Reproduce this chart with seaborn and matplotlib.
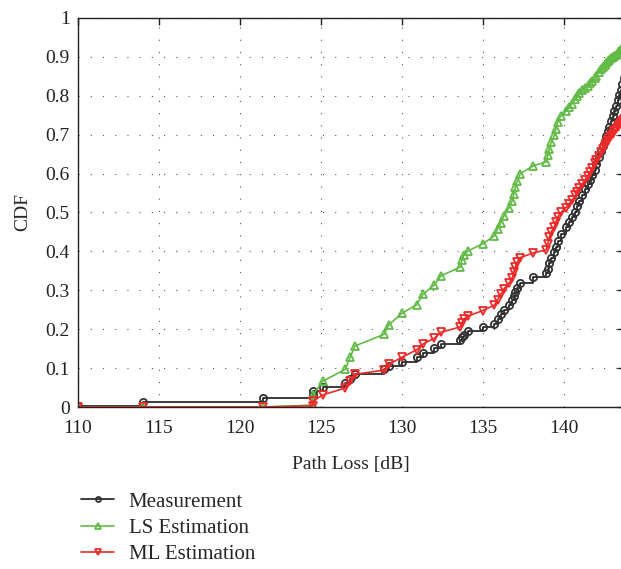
import matplotlib
matplotlib.use("Agg")
import matplotlib.pyplot as plt
import seaborn as sns

# Path loss samples (dB) shared by all three curves
path_loss = [110.0, 114.0, 121.4, 124.5, 124.5, 125.1, 126.5, 126.8, 127.1, 128.9,
             129.2, 130.0, 130.9, 131.3, 132.0, 132.4, 133.6, 133.7, 133.8, 134.1,
             135.0, 135.7, 135.9, 136.1, 136.3, 136.6, 136.8, 136.9, 137.0, 137.1,
             137.3, 138.1, 138.9, 139.0, 139.1, 139.2, 139.4, 139.5, 139.6, 139.8,
             140.1, 140.3, 140.5, 140.7, 140.8, 140.9, 141.1, 141.3, 141.45, 141.6,
             141.75, 141.9, 142.0, 142.15, 142.3, 142.4, 142.5, 142.6, 142.7, 142.8,
             142.9, 143.0, 143.1, 143.2, 143.3, 143.4, 143.5, 143.6, 143.7]

cdf_meas = [0.003, 0.013, 0.022, 0.032, 0.042, 0.052, 0.062, 0.072, 0.085, 0.097,
            0.105, 0.116, 0.128, 0.139, 0.152, 0.162, 0.172, 0.180, 0.186, 0.195,
            0.205, 0.214, 0.226, 0.238, 0.250, 0.262, 0.274, 0.286, 0.296, 0.306,
            0.320, 0.334, 0.344, 0.356, 0.370, 0.384, 0.398, 0.412, 0.428, 0.446,
            0.462, 0.476, 0.488, 0.502, 0.516, 0.530, 0.546, 0.560, 0.572, 0.584,
            0.596, 0.608, 0.625, 0.642, 0.658, 0.672, 0.684, 0.697, 0.709, 0.721,
            0.734, 0.747, 0.760, 0.774, 0.788, 0.801, 0.815, 0.830, 0.845]

cdf_ls = [0.0, 0.0, 0.0, 0.005, 0.030, 0.066, 0.097, 0.128, 0.157, 0.187,
          0.212, 0.241, 0.263, 0.290, 0.314, 0.337, 0.360, 0.378, 0.390, 0.402,
          0.420, 0.440, 0.458, 0.474, 0.492, 0.512, 0.530, 0.548, 0.565, 0.580,
          0.600, 0.620, 0.630, 0.648, 0.664, 0.680, 0.698, 0.715, 0.732, 0.748,
          0.760, 0.770, 0.780, 0.792, 0.800, 0.808, 0.815, 0.820, 0.826, 0.832,
          0.838, 0.845, 0.852, 0.860, 0.868, 0.874, 0.880, 0.885, 0.889, 0.893,
          0.897, 0.900, 0.903, 0.906, 0.910, 0.914, 0.918, 0.922, 0.926]

cdf_ml = [0.0, 0.0, 0.0, 0.003, 0.015, 0.031, 0.049, 0.068, 0.084, 0.095,
          0.110, 0.128, 0.147, 0.162, 0.177, 0.192, 0.206, 0.216, 0.226, 0.234,
          0.248, 0.262, 0.276, 0.290, 0.304, 0.318, 0.332, 0.346, 0.360, 0.372,
          0.384, 0.396, 0.404, 0.420, 0.436, 0.450, 0.463, 0.476, 0.488, 0.500,
          0.512, 0.522, 0.532, 0.544, 0.552, 0.562, 0.572, 0.584, 0.594, 0.604,
          0.614, 0.626, 0.634, 0.645, 0.656, 0.663, 0.670, 0.677, 0.684, 0.691,
          0.697, 0.703, 0.709, 0.714, 0.719, 0.724, 0.729, 0.735, 0.740]

series_labels = ["Measurement", "LS Estimation", "ML Estimation"]
x_ticks = [110, 115, 120, 125, 130, 135, 140]
y_ticks = [0, 0.1, 0.2, 0.3, 0.4, 0.5, 0.6, 0.7, 0.8, 0.9, 1]
y_tick_labels = ["0", "0.1", "0.2", "0.3", "0.4", "0.5", "0.6", "0.7", "0.8", "0.9", "1"]

sns.set_style("white")
plt.rcParams["font.family"] = ["Liberation Serif", "DejaVu Serif"]

fig = plt.figure(figsize=(6.21, 5.69), dpi=100)
ax = fig.add_axes([0.1256, 0.2847, 0.88, 0.6837])

green = "#62bb47"
red = "#ee2a2a"

sns.lineplot(x=path_loss, y=cdf_meas, ax=ax, estimator=None, sort=False,
             color="#1a1a1a", lw=1.2, drawstyle="steps-post", marker="o",
             markersize=5.2, markerfacecolor="none", markeredgecolor="#333333",
             markeredgewidth=1.3, label=series_labels[0])
sns.lineplot(x=path_loss, y=cdf_ls, ax=ax, estimator=None, sort=False,
             color=green, lw=1.2, marker="^", markersize=6,
             markerfacecolor="none", markeredgecolor=green,
             markeredgewidth=1.3, label=series_labels[1])
sns.lineplot(x=path_loss, y=cdf_ml, ax=ax, estimator=None, sort=False,
             color=red, lw=1.2, marker="v", markersize=6,
             markerfacecolor="none", markeredgecolor=red,
             markeredgewidth=1.3, label=series_labels[2])

ax.set_xlim(110, 143.73)
ax.set_ylim(0, 1)
ax.set_xticks(x_ticks)
ax.set_yticks(y_ticks)
ax.set_yticklabels(y_tick_labels)
ax.grid(True, color="#555555", linestyle=(0, (1, 10)), linewidth=0.8)
ax.tick_params(direction="in", length=5, width=1, top=True, right=True,
               colors="#222222", labelsize=14)
ax.tick_params(axis="x", pad=9)
ax.tick_params(axis="y", pad=6)
for s in ax.spines.values():
    s.set_color("#222222")
    s.set_linewidth(1.0)

ax.set_xlabel("Path Loss [dB]", fontsize=14, labelpad=14)
ax.set_ylabel("CDF", fontsize=14, labelpad=10)

ax.get_legend().remove()
handles, labels = ax.get_legend_handles_labels()
fig.legend(handles, labels, loc="upper left", bbox_to_anchor=(0.1, 0.168),
           frameon=False, fontsize=15, handlelength=1.6, numpoints=1,
           labelspacing=0.32, handletextpad=0.7, markerscale=0.7)

fig.savefig("out.png", dpi=100)
